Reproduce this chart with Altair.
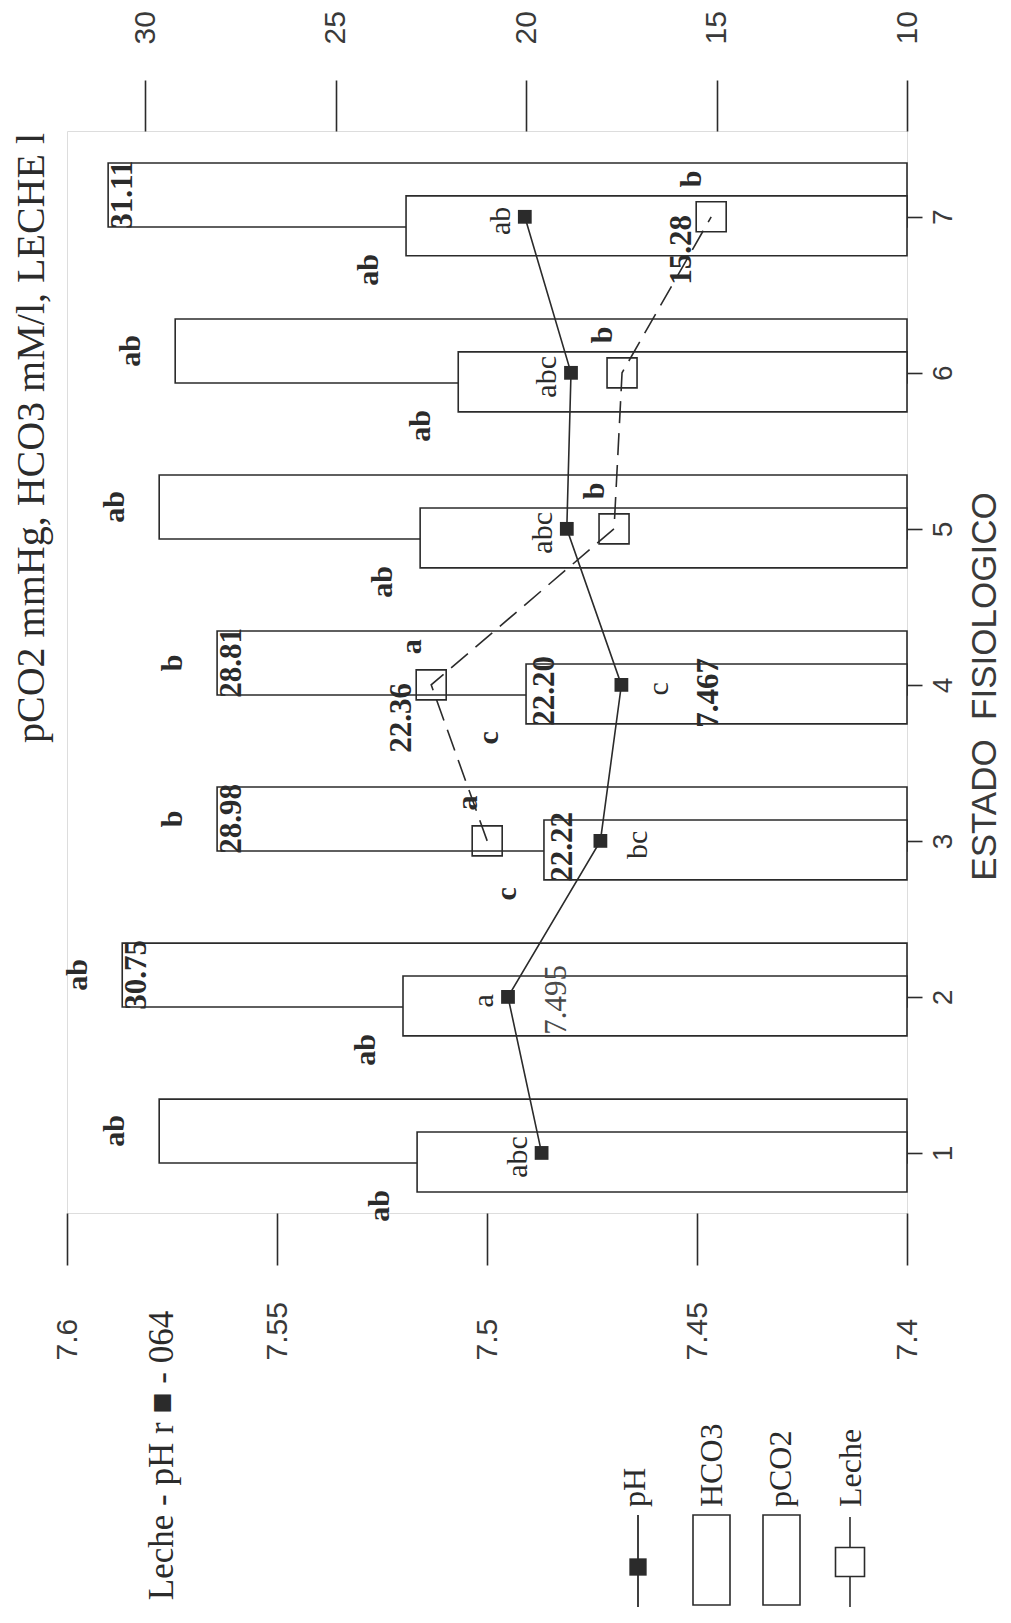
import altair as alt
import pandas as pd

# ---------------- data ----------------
cats = [1, 2, 3, 4, 5, 6, 7]
pco2 = [29.63, 30.60, 28.11, 28.11, 29.63, 29.21, 30.97]
hco3 = [22.86, 23.23, 19.53, 20.00, 22.78, 21.78, 23.15]
ph = [7.487, 7.495, 7.473, 7.468, 7.481, 7.480, 7.491]
leche_cats = [3, 4, 5, 6, 7]
leche = [21.02, 22.49, 17.69, 17.48, 15.14]

pco2_letters = ["ab", "ab", "b", "b", "ab", "ab", ""]
hco3_letters = ["ab", "ab", "c", "c", "ab", "ab", "ab"]
ph_letters = ["abc", "a", "bc", "c", "abc", "abc", "ab"]
leche_letters = ["a", "a", "b", "b", "b"]
pco2_values = ["", "30.75", "28.98", "28.81", "", "", "31.11"]
hco3_values = ["", "", "22.22", "22.20", "", "", ""]
ph_values = ["", "7.495", "", "7.467", "", "", ""]
leche_values = ["", "22.36", "", "", "15.28"]

val_ticks = [10, 15, 20, 25, 30]
ph_ticks = [7.4, 7.45, 7.5, 7.55, 7.6]
chart_title = "pCO2 mmHg, HCO3 mM/l, LECHE l"
ph_axis_title = "Leche - pH r \u25a0 - 064"
cat_axis_title = "ESTADO\u00a0\u00a0FISIOLOGICO"
legend_labels = ["pH", "HCO3", "pCO2", "Leche"]

# ---------------- styling ----------------
INK = "#2b2b2b"
SOFT = "#4a4a4a"
SERIF = "Liberation Serif"
SANS = "Liberation Sans"
W, H = 840, 1082
RIGHT_SIDE_PH = [3, 4]  # categories whose pH letter sits right of the marker

df = pd.DataFrame({
    "cat": cats, "pco2": pco2, "hco3": hco3, "ph": ph,
    "pco2_lab": pco2_letters, "hco3_lab": hco3_letters, "ph_lab": ph_letters,
    "pco2_val": pco2_values, "hco3_val": hco3_values, "ph_val": ph_values,
})
dfl = pd.DataFrame({"cat": leche_cats, "leche": leche,
                    "lab": leche_letters, "val": leche_values})

xs_val = alt.Scale(domain=[10, 32.05], reverse=True, nice=False, zero=False)
xs_ph = alt.Scale(domain=[7.4, 7.6], reverse=True, nice=False, zero=False)
ys = alt.Scale(domain=[0.615, 7.55], nice=False, zero=False)

val_axis = alt.Axis(orient="top", values=val_ticks, tickSize=51, tickWidth=1.6,
                    tickColor=INK, domain=False, grid=False, labelAngle=270,
                    labelAlign="left", labelBaseline="middle", labelPadding=36,
                    labelFont=SANS, labelFontSize=30, labelColor="#3a3a3a",
                    labelFlush=False, labelOverlap=False, title=None)
ph_axis = alt.Axis(orient="bottom", values=ph_ticks, format=".2~f", tickSize=52,
                   tickWidth=1.6, tickColor=INK, domain=False, grid=False,
                   labelAngle=270, labelAlign="left", labelBaseline="middle",
                   labelPadding=95, labelFont=SANS, labelFontSize=30,
                   labelColor="#3a3a3a", labelFlush=False, labelOverlap=False,
                   title=ph_axis_title, titleAngle=270, titleX=94, titleY=242,
                   titleAlign="center", titleBaseline="middle", titleFont=SERIF,
                   titleFontSize=35, titleFontWeight="normal", titleColor=INK)
cat_axis = alt.Axis(orient="right", values=cats, tickSize=15, tickWidth=1.6,
                    tickColor=INK, domain=False, grid=False, labelAngle=270,
                    labelAlign="center", labelBaseline="top", labelPadding=7,
                    labelFont=SANS, labelFontSize=28, labelColor="#3a3a3a",
                    labelFlush=False, labelOverlap=False,
                    title=cat_axis_title, titleAngle=270, titleX=77, titleY=555,
                    titleAlign="center", titleBaseline="middle", titleFont=SANS,
                    titleFontSize=35, titleFontWeight="normal", titleColor="#3a3a3a")


def X(field, group):
    if group == "val":
        return alt.X(field, type="quantitative", scale=xs_val, axis=val_axis)
    return alt.X(field, type="quantitative", scale=xs_ph, axis=ph_axis)


def Y(field):
    return alt.Y(field, type="quantitative", scale=ys, axis=cat_axis)


def label_layer(data, xfield, textfield, group, right, down, extra_filter=None,
                weight="bold", size=30, color=INK):
    ch = alt.Chart(data).transform_filter(f"datum['{textfield}'] != ''")
    if extra_filter:
        ch = ch.transform_filter(extra_filter)
    return ch.mark_text(angle=270, dx=-down, dy=right, align="center",
                        baseline="middle", font=SERIF, fontSize=size,
                        fontWeight=weight, color=color).encode(
        x=X(xfield, group), y=Y("cat"), text=alt.Text(textfield, type="nominal"))


# ---------------- value (10-30) group ----------------
pco2_bars = alt.Chart(df).transform_calculate(
    y_top="datum.cat + 0.345", y_bot="datum.cat - 0.065", base="10"
).mark_rect(fill="white", stroke=INK, strokeWidth=1.6).encode(
    x=X("pco2", "val"), x2=alt.X2("base:Q"), y=Y("y_top"), y2=alt.Y2("y_bot:Q"))

hco3_bars = alt.Chart(df).transform_calculate(
    y_top="datum.cat + 0.134", y_bot="datum.cat - 0.25", base="10"
).mark_rect(fill="white", stroke=INK, strokeWidth=1.6).encode(
    x=X("hco3", "val"), x2=alt.X2("base:Q"), y=Y("y_top"), y2=alt.Y2("y_bot:Q"))

leche_line = alt.Chart(dfl).mark_line(color=INK, strokeWidth=1.6,
                                      strokeDash=[22, 10]).encode(
    x=X("leche", "val"), y=Y("cat"), order=alt.Order("cat:Q"))
leche_pts = alt.Chart(dfl).mark_point(shape="square", size=900, filled=False,
                                      stroke=INK, strokeWidth=1.6, opacity=1).encode(
    x=X("leche", "val"), y=Y("cat"))

val_group = alt.layer(
    pco2_bars, hco3_bars, leche_line, leche_pts,
    label_layer(df, "pco2", "pco2_lab", "val", -44, -22),
    label_layer(df, "pco2", "pco2_val", "val", 15, -22, size=31),
    label_layer(df, "hco3", "hco3_lab", "val", -37, 53),
    label_layer(df, "hco3", "hco3_val", "val", 19, 6, size=31),
    label_layer(dfl, "leche", "lab", "val", -19, -38),
    label_layer(dfl, "leche", "val", "val", -29, 33, size=31),
)

# ---------------- pH group ----------------
ph_line = alt.Chart(df).mark_line(color=INK, strokeWidth=1.6).encode(
    x=X("ph", "ph"), y=Y("cat"), order=alt.Order("cat:Q"))
ph_pts = alt.Chart(df).mark_square(size=190, color=INK, opacity=1).encode(
    x=X("ph", "ph"), y=Y("cat"))
right_list = "[" + ",".join(str(c) for c in RIGHT_SIDE_PH) + "]"
ph_group = alt.layer(
    ph_line, ph_pts,
    label_layer(df, "ph", "ph_lab", "ph", -24, 4,
                extra_filter=f"indexof({right_list}, datum.cat) < 0", weight="normal"),
    label_layer(df, "ph", "ph_lab", "ph", 38, 4,
                extra_filter=f"indexof({right_list}, datum.cat) >= 0", weight="normal"),
    label_layer(df, "ph", "ph_val", "ph", 49, 3,
                extra_filter=f"indexof({right_list}, datum.cat) < 0", size=31,
                weight="normal", color=SOFT),
    label_layer(df, "ph", "ph_val", "ph", 88, 8,
                extra_filter=f"indexof({right_list}, datum.cat) >= 0", size=31),
)

# ---------------- title and legend (furniture) ----------------
one = pd.DataFrame({"t": [chart_title]})
title_layer = alt.Chart(one).mark_text(angle=270, align="center", baseline="middle",
                                       font=SERIF, fontSize=40, color=INK).encode(
    x=alt.value(-35), y=alt.value(307), text="t:N")

leg = pd.DataFrame({"k": [0]})
leg_layers = [
    alt.Chart(leg).mark_rule(color=INK, strokeWidth=1.8).encode(
        x=alt.value(571), y=alt.value(1384), y2=alt.value(1476)),
    alt.Chart(leg).mark_square(size=300, color=INK, opacity=1).encode(
        x=alt.value(571), y=alt.value(1436)),
    alt.Chart(leg).mark_rect(fill="white", stroke=INK, strokeWidth=1.6).encode(
        x=alt.value(626), x2=alt.value(663), y=alt.value(1384), y2=alt.value(1474)),
    alt.Chart(leg).mark_rect(fill="white", stroke=INK, strokeWidth=1.6).encode(
        x=alt.value(696), x2=alt.value(733), y=alt.value(1384), y2=alt.value(1474)),
    alt.Chart(leg).mark_rule(color=INK, strokeWidth=1.6).encode(
        x=alt.value(783), y=alt.value(1386), y2=alt.value(1476)),
    alt.Chart(leg).mark_point(shape="square", size=841, filled=False, stroke=INK,
                              strokeWidth=1.6, fill="white", opacity=1).encode(
        x=alt.value(783), y=alt.value(1431)),
]
legend_x = [568, 645, 714, 784]
for lab, lx in zip(legend_labels, legend_x):
    d = pd.DataFrame({"t": [lab]})
    leg_layers.append(
        alt.Chart(d).mark_text(angle=270, align="left", baseline="middle",
                               font=SERIF, fontSize=32, color=INK).encode(
            x=alt.value(lx), y=alt.value(1376), text="t:N"))

chart = alt.layer(val_group, ph_group, title_layer, *leg_layers).resolve_scale(
    x="independent"
).properties(
    width=W, height=H,
    autosize=alt.AutoSizeParams(type="none"),
    padding={"left": 59, "top": 123, "right": 96, "bottom": 396},
).configure_view(stroke=INK, strokeWidth=1.6).configure(background="white")

chart.save("out.html", embed_options={"renderer": "svg", "actions": False})
